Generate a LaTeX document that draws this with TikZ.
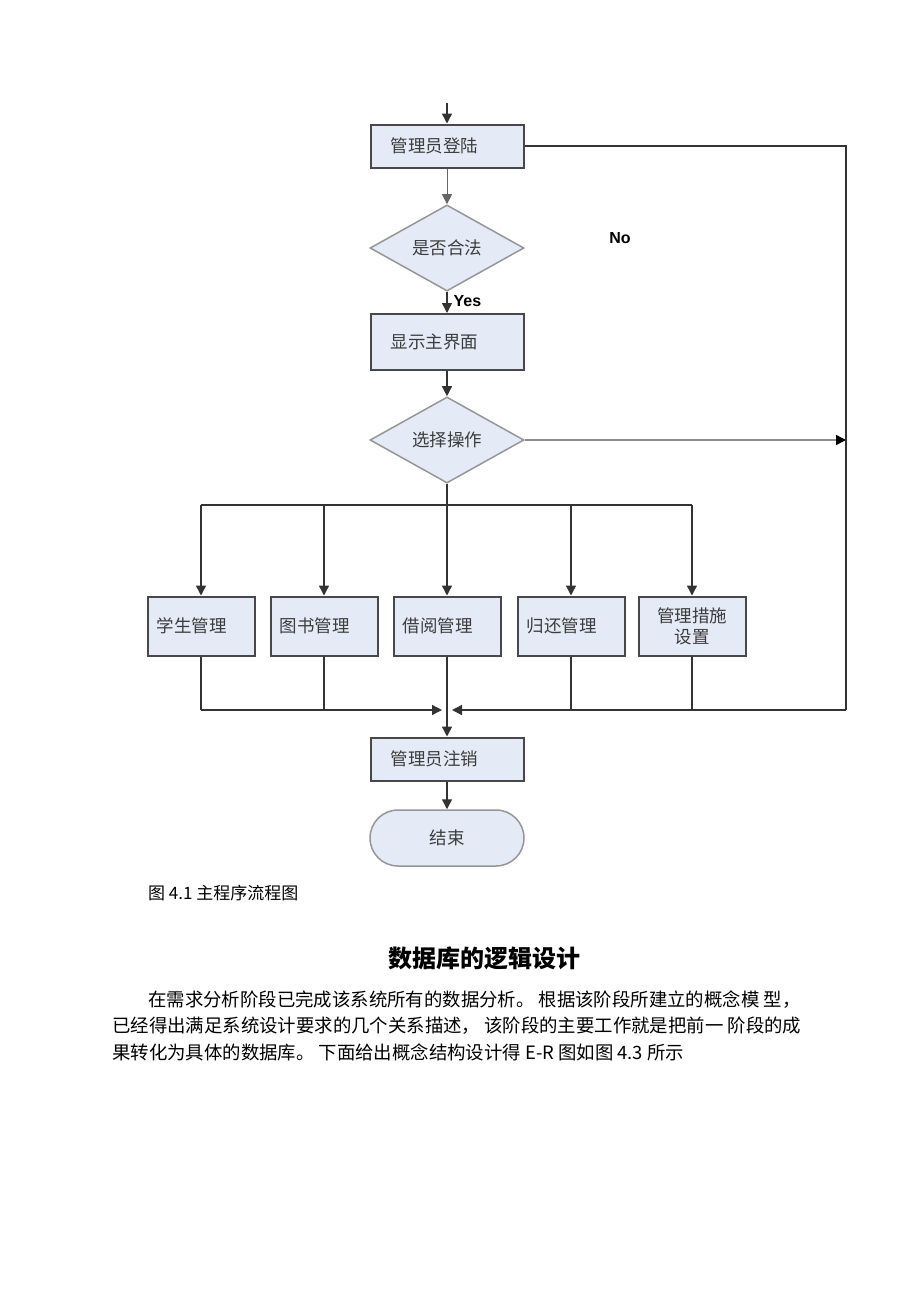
\documentclass[tikz,border=0pt]{standalone}
\usepackage{fontspec}
\setmainfont{Liberation Serif}
\newfontfamily\cjk{Noto Sans CJK SC}
\newfontfamily\lat{Liberation Sans}
\usepackage{xcolor}
\usetikzlibrary{shapes, arrows.meta, calc}
\definecolor{boxfill}{RGB}{228,235,247}
\definecolor{boxline}{RGB}{72,72,72}
\definecolor{dialine}{RGB}{150,150,150}
\definecolor{txt}{RGB}{60,60,60}

\begin{document}
\begin{tikzpicture}[x=1pt,y=-1pt,
            box/.style={draw=boxline, line width=2pt, fill=boxfill,
                text width=113pt, inner xsep=20pt, minimum height=43pt,
                align=left, text=txt, font=\cjk\fontsize{17.5}{21}\selectfont},
            smallbox/.style={box, text width=89pt, inner xsep=9pt, minimum height=59pt},
            decide/.style={diamond, draw=dialine, line width=1.5pt, fill=boxfill,
                minimum width=154pt, minimum height=82pt, inner sep=0pt,
                text=txt, font=\cjk\fontsize{17.5}{21}\selectfont},
            stop/.style={draw=dialine, line width=1.5pt, fill=boxfill, rounded corners=28pt,
                minimum width=154pt, minimum height=56pt,
                text=txt, font=\cjk\fontsize{17.5}{21}\selectfont},
            flow/.style={line width=1.4pt, draw=black!80},
            arr/.style={flow, -{Triangle[length=10pt,width=10pt]}},
            yesno/.style={font=\lat\bfseries\fontsize{16}{19}\selectfont},
            body/.style={anchor=west, inner sep=0pt, font=\cjk\fontsize{18.4}{22}\selectfont}]
    \useasboundingbox[fill=white] (0,0) rectangle (920,1302);

    \node[box] (login) at (447,146) {管理员登陆};
    \node[decide] (legal) at (447,248) {是否合法};
    \node[box, minimum height=56pt] (main) at (447,342) {显示主界面};
    \node[decide] (choose) at (447,440) {选择操作};

    \node[smallbox] (stu)   at (201,626) {学生管理};
    \node[smallbox] (book)  at (324,626) {图书管理};
    \node[smallbox] (lend)  at (447,626) {借阅管理};
    \node[smallbox] (back)  at (571,626) {归还管理};
    \node[smallbox, align=center] (rule) at (692,626) {管理措施\\设置};

    \node[box] (logout) at (447,759) {管理员注销};
    \node[stop] (fin) at (447,838) {结束};

    \coordinate (start) at (447,103);
    \coordinate (ne) at (846,146);
    \coordinate (se) at (846,710);
    \coordinate (side) at (846,440);
    \coordinate (bus) at (447,505);
    \coordinate (low) at (447,710);
    \coordinate (jl) at (442,710);
    \coordinate (jr) at (452,710);

    \draw[arr] (start) -- (login.north);
    \draw[arr, line width=0.8pt, draw=black!60] (login.south) -- (legal.north);
    \draw[arr] (legal.south) -- node[yesno, right, pos=0.45, inner sep=0pt, xshift=6pt] {Yes} (main.north);
    \draw[arr] (main.south) -- (choose.north);
    \draw[arr, draw=black!45, -{Triangle[length=10pt,width=10pt,color=black]}] (choose.east) -- (side);
    \node[yesno] (no) at (620,238) {No};

    \draw[flow] (login.east) -- (ne) -- (se);
    \draw[arr] (se) -- (jr);

    \draw[arr] (choose.south) -- (lend.north);
    \draw[flow] (bus -| stu.north) -- (bus -| rule.north);
    \draw[arr] (bus -| stu.north) -- (stu.north);
    \draw[arr] (bus -| book.north) -- (book.north);
    \draw[arr] (bus -| back.north) -- (back.north);
    \draw[arr] (bus -| rule.north) -- (rule.north);

    \draw[flow] (stu.south) -- (low -| stu.south);
    \draw[arr] (low -| stu.south) -- (jl);
    \draw[flow] (book.south) -- (low -| book.south);
    \draw[flow] (back.south) -- (low -| back.south);
    \draw[flow] (rule.south) -- (low -| rule.south);
    \draw[arr] (lend.south) -- (logout.north);
    \draw[arr] (logout.south) -- (fin.north);

    \node[body, font=\cjk\fontsize{17}{21}\selectfont] (cap) at (148,893) {图 4.1 主程序流程图};
    \node[inner sep=0pt, font=\cjk\bfseries\fontsize{24}{28}\selectfont] (title) at (484,958) {数据库的逻辑设计};
    \node[body] (line1) at (148,1000) {在需求分析阶段已完成该系统所有的数据分析。 根据该阶段所建立的概念模 型，};
    \node[body] (line2) at (112,1026) {已经得出满足系统设计要求的几个关系描述， 该阶段的主要工作就是把前一 阶段的成};
    \node[body] (line3) at (112,1052) {果转化为具体的数据库。 下面给出概念结构设计得 E-R 图如图 4.3 所示};
\end{tikzpicture}
\end{document}
